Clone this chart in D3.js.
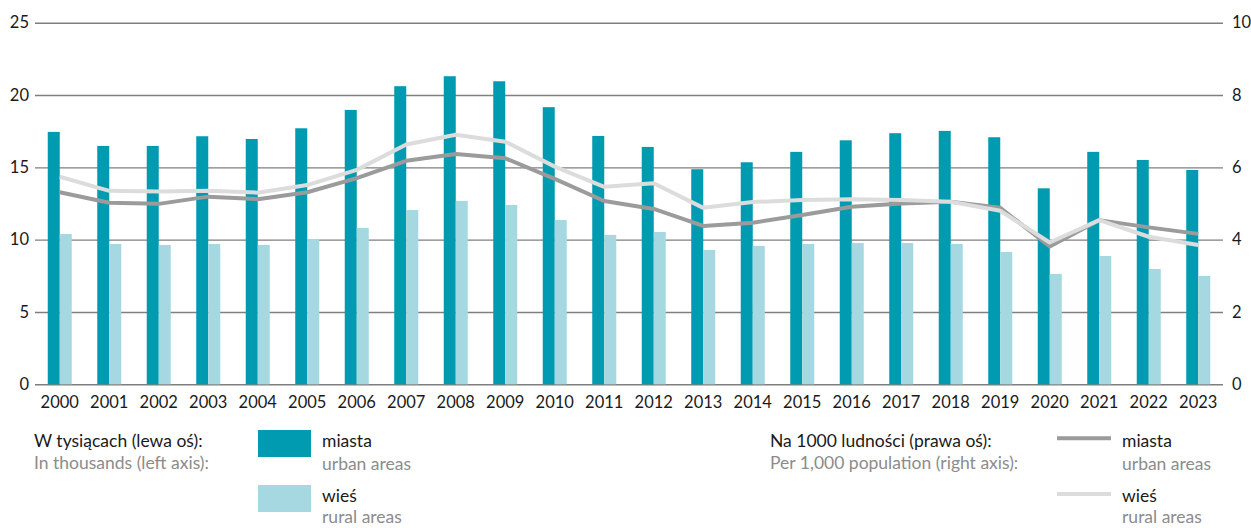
<!DOCTYPE html>
<html>
<head>
<meta charset="utf-8">
<script src="https://cdn.jsdelivr.net/npm/d3@7"></script>
<style>
  body { margin: 0; background: #fff; }
  text { font-family: Lato, "Noto Sans", sans-serif; }
</style>
</head>
<body>
<div id="draw"></div>
<script>
var years = ['2000', '2001', '2002', '2003', '2004', '2005', '2006', '2007', '2008', '2009', '2010', '2011',
	'2012', '2013', '2014', '2015', '2016', '2017', '2018', '2019', '2020', '2021', '2022', '2023'];

// thousands (left axis)
var urbanBars = [17.45, 16.48, 16.48, 17.15, 16.96, 17.7, 18.97, 20.61, 21.3, 20.95, 19.16, 17.17,
	16.41, 14.87, 15.35, 16.07, 16.87, 17.36, 17.52, 17.08, 13.55, 16.07, 15.51, 14.82];
var ruralBars = [10.39, 9.7, 9.63, 9.7, 9.63, 10.05, 10.81, 12.05, 12.68, 12.4, 11.36, 10.33,
	10.53, 9.29, 9.57, 9.7, 9.77, 9.77, 9.7, 9.15, 7.63, 8.87, 7.97, 7.49];

// per 1000 population (right axis)
var urbanRate = [5.31, 5.02, 4.99, 5.19, 5.12, 5.31, 5.7, 6.18, 6.37, 6.25, 5.68, 5.07,
	4.85, 4.38, 4.47, 4.68, 4.91, 5.0, 5.05, 4.88, 3.81, 4.54, 4.34, 4.16];
var ruralRate = [5.74, 5.35, 5.33, 5.35, 5.3, 5.51, 5.93, 6.63, 6.9, 6.71, 6.02, 5.46,
	5.56, 4.88, 5.04, 5.1, 5.12, 5.1, 5.05, 4.8, 3.92, 4.54, 4.08, 3.85];

var leftTicks = [0, 5, 10, 15, 20, 25];
var rightTicks = [0, 2, 4, 6, 8, 10];

var teal = '#009bb0', lightTeal = '#a6d8e2', darkLine = '#9b9b9b', lightLine = '#dcdcdc';

var width = 1251, height = 528;
var svg = d3.select('#draw').append('svg')
	.attr('width', width)
	.attr('height', height);

var x = d3.scaleBand().domain(years).range([35, 1223]).paddingInner(0.515).paddingOuter(0.2575);
var yL = d3.scaleLinear().domain([0, 25]).range([384.3, 22.7]);
var yR = d3.scaleLinear().domain([0, 10]).range([384.3, 22.7]);

// gridlines + left axis
var axL = svg.append('g')
	.attr('transform', 'translate(35,0)')
	.call(d3.axisLeft(yL).tickValues(leftTicks).tickSize(-1188).tickPadding(6));
axL.select('.domain').remove();
axL.selectAll('line').attr('stroke', '#7f7f7f').attr('stroke-width', 1.4);
axL.selectAll('text').attr('font-size', 16.5).attr('fill', '#1a1a1a').attr('x', -6);

var axR = svg.append('g')
	.attr('transform', 'translate(1223,0)')
	.call(d3.axisRight(yR).tickValues(rightTicks).tickSize(0).tickPadding(9));
axR.select('.domain').remove();
axR.selectAll('text').attr('font-size', 16.5).attr('fill', '#1a1a1a');

var bw = x.bandwidth() / 2;

svg.append('g').selectAll('rect')
	.data(years)
	.enter()
	.append('rect')
	.attr('x', function (d) { return x(d); })
	.attr('y', function (d, i) { return yL(urbanBars[i]); })
	.attr('width', bw)
	.attr('height', function (d, i) { return yL(0) - yL(urbanBars[i]); })
	.attr('fill', teal);

svg.append('g').selectAll('rect')
	.data(years)
	.enter()
	.append('rect')
	.attr('x', function (d) { return x(d) + bw; })
	.attr('y', function (d, i) { return yL(ruralBars[i]); })
	.attr('width', bw)
	.attr('height', function (d, i) { return yL(0) - yL(ruralBars[i]); })
	.attr('fill', lightTeal);

// year labels
var axB = svg.append('g')
	.attr('transform', 'translate(0,384.3)')
	.call(d3.axisBottom(x).tickSize(0).tickPadding(12));
axB.select('.domain').remove();
axB.selectAll('text').attr('font-size', 16.5).attr('fill', '#1a1a1a');

var line = d3.line()
	.x(function (d, i) { return x(years[i]) + x.bandwidth() / 2; })
	.y(function (d) { return yR(d); });

svg.append('path').attr('d', line(urbanRate))
	.attr('fill', 'none').attr('stroke', darkLine).attr('stroke-width', 4).attr('stroke-linejoin', 'round');
svg.append('path').attr('d', line(ruralRate))
	.attr('fill', 'none').attr('stroke', lightLine).attr('stroke-width', 4).attr('stroke-linejoin', 'round');

// legend
var lg = svg.append('g').attr('font-size', 17.5);
function label(xp, yp, txt, col) {
	lg.append('text').attr('x', xp).attr('y', yp).attr('fill', col).text(txt);
}
label(34, 447, 'W tysiącach (lewa oś):', '#1a1a1a');
label(34, 469, 'In thousands (left axis):', '#8c8c8c');
lg.append('rect').attr('x', 258).attr('y', 430).attr('width', 53).attr('height', 27).attr('fill', teal);
lg.append('rect').attr('x', 258).attr('y', 485).attr('width', 53).attr('height', 27).attr('fill', lightTeal);
label(322, 447, 'miasta', '#1a1a1a');
label(322, 470, 'urban areas', '#8c8c8c');
label(322, 502, 'wieś', '#1a1a1a');
label(322, 523, 'rural areas', '#8c8c8c');

label(770, 447, 'Na 1000 ludności (prawa oś):', '#1a1a1a');
label(770, 469, 'Per 1,000 population (right axis):', '#8c8c8c');
lg.append('line').attr('x1', 1057).attr('x2', 1111).attr('y1', 438.3).attr('y2', 438.3)
	.attr('stroke', darkLine).attr('stroke-width', 4);
lg.append('line').attr('x1', 1057).attr('x2', 1111).attr('y1', 494).attr('y2', 494)
	.attr('stroke', lightLine).attr('stroke-width', 4);
label(1122, 447, 'miasta', '#1a1a1a');
label(1122, 470, 'urban areas', '#8c8c8c');
label(1122, 502, 'wieś', '#1a1a1a');
label(1122, 523, 'rural areas', '#8c8c8c');
</script>
</body>
</html>
